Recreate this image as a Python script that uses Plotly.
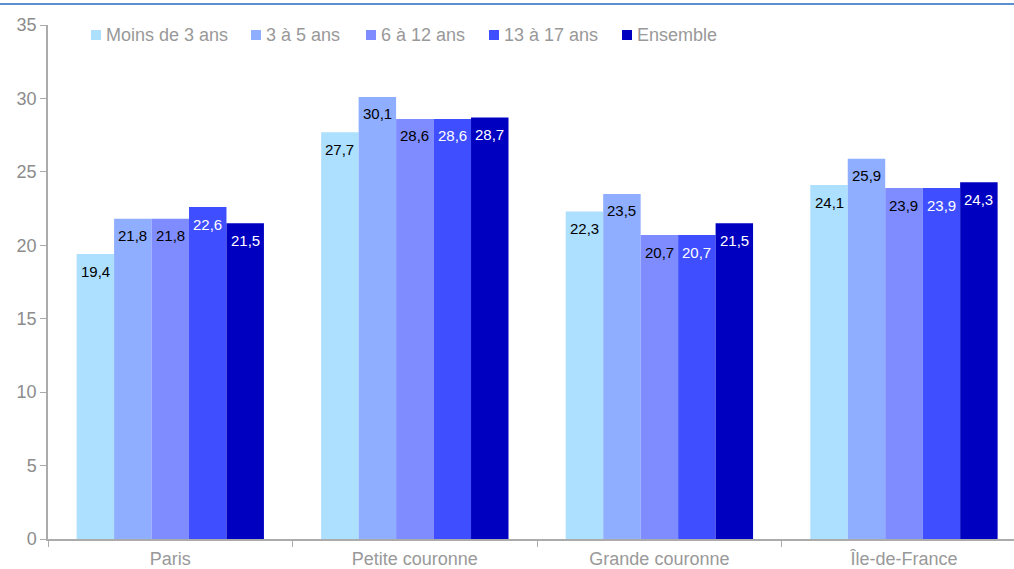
import plotly.graph_objects as go

categories = ["Paris", "Petite couronne", "Grande couronne", "Île-de-France"]
series_names = ["Moins de 3 ans", "3 à 5 ans", "6 à 12 ans", "13 à 17 ans", "Ensemble"]
moins_3 = [19.4, 27.7, 22.3, 24.1]
de_3_a_5 = [21.8, 30.1, 23.5, 25.9]
de_6_a_12 = [21.8, 28.6, 20.7, 23.9]
de_13_a_17 = [22.6, 28.6, 20.7, 23.9]
ensemble = [21.5, 28.7, 21.5, 24.3]
y_ticks = [0, 5, 10, 15, 20, 25, 30, 35]

series_values = [moins_3, de_3_a_5, de_6_a_12, de_13_a_17, ensemble]
colors = ["#ADDFFF", "#8FAEFF", "#7F8CFF", "#3F4FFF", "#0000C0"]
label_colors = ["#000000", "#000000", "#000000", "#FFFFFF", "#FFFFFF"]

FONT = "Liberation Sans, Arial, sans-serif"
W, H = 1014, 569
ML, MR, MT, MB = 48, 0, 25, 30
PW, PH = W - ML - MR, H - MT - MB
X_RANGE = [-0.5, 3.45]
BARGAP = 0.234

px_per_cat = PW / (X_RANGE[1] - X_RANGE[0])
bar_px = px_per_cat * (1 - BARGAP) / len(series_names)

fig = go.Figure()
for name, vals, col in zip(series_names, series_values, colors):
    fig.add_trace(go.Bar(
        x=categories, y=vals, name=name,
        marker=dict(color=col, line=dict(width=0)),
        showlegend=False, hoverinfo="x+y+name",
    ))

# value labels just under the top of each bar
for k, (vals, lc) in enumerate(zip(series_values, label_colors)):
    shift = (k - (len(series_names) - 1) / 2) * bar_px
    for cat, v in zip(categories, vals):
        fig.add_annotation(
            x=cat, y=v, xref="x", yref="y", xshift=shift, yshift=-17,
            text=f"{v:.1f}".replace(".", ","), showarrow=False,
            xanchor="center", yanchor="middle",
            font=dict(family=FONT, size=15, color=lc),
        )

# legend row across the top of the plot
legend_px = [91, 251, 366, 489, 622]
legend_py = 35
for name, col, lx in zip(series_names, colors, legend_px):
    fig.add_shape(
        type="rect", xref="paper", yref="paper",
        x0=(lx - ML) / PW, x1=(lx + 10 - ML) / PW,
        y0=(H - MB - legend_py - 5) / PH, y1=(H - MB - legend_py + 5) / PH,
        fillcolor=col, line=dict(width=0),
    )
    fig.add_annotation(
        x=(lx + 13 - ML) / PW, y=(H - MB - legend_py) / PH, xref="paper", yref="paper",
        text=name, showarrow=False, xanchor="left", yanchor="middle",
        font=dict(family=FONT, size=18, color="#999999"),
    )

fig.update_layout(
    width=W, height=H,
    margin=dict(l=ML, r=MR, t=MT, b=MB),
    paper_bgcolor="white", plot_bgcolor="white",
    barmode="group", bargap=BARGAP, bargroupgap=0,
    font=dict(family=FONT, color="#8C8C8C", size=18),
    showlegend=False,
)
fig.update_xaxes(
    range=X_RANGE, showline=True, linecolor="#ABABAB", linewidth=1.5,
    ticks="outside", tickson="boundaries", ticklen=6, tickcolor="#ABABAB",
    ticklabelstandoff=3, automargin=False,
    tickfont=dict(family=FONT, size=18, color="#999999"), showgrid=False, fixedrange=True,
)
fig.update_yaxes(
    range=[0, 35], tickvals=y_ticks, showline=True, linecolor="#ABABAB", linewidth=1.5,
    ticks="outside", ticklen=6, tickcolor="#ABABAB", showgrid=False, zeroline=False,
    automargin=False,
    tickfont=dict(family=FONT, size=18, color="#8C8C8C"), fixedrange=True,
)
# thin rule along the top of the page
fig.add_shape(type="line", xref="paper", yref="paper",
              x0=-ML / PW, x1=1.0, y0=1 + (MT - 4) / PH, y1=1 + (MT - 4) / PH,
              line=dict(color="#5B8FD0", width=2))

fig.write_html("out.html", config={"displayModeBar": False})
